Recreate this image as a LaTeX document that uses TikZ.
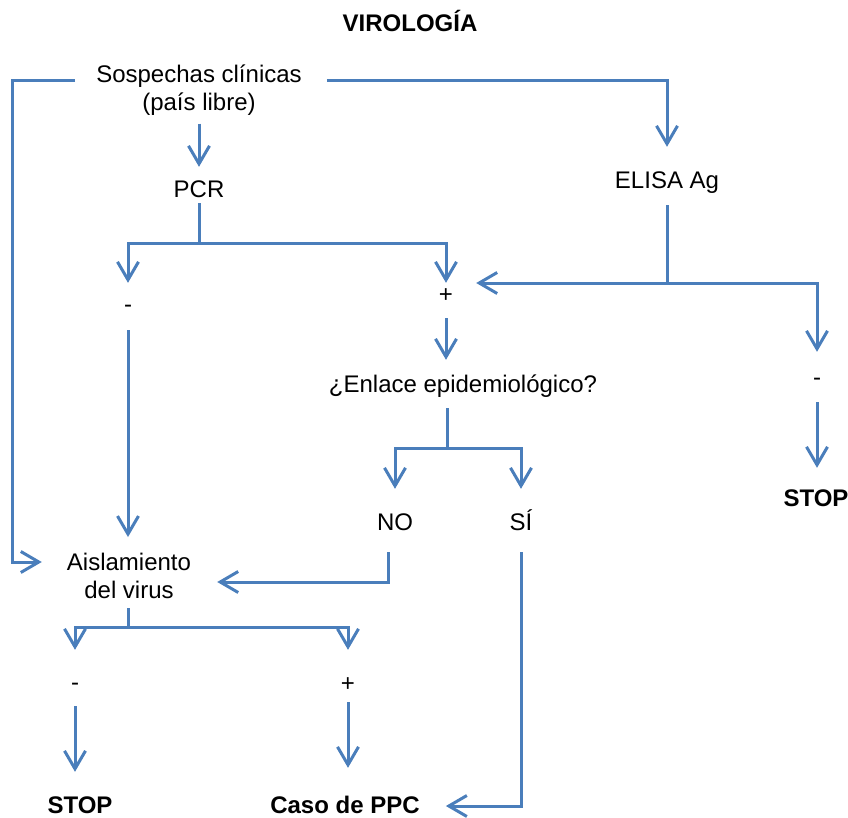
\documentclass[tikz,border=0pt]{standalone}
\usepackage{fontspec}
\setmainfont{Liberation Sans}
\usetikzlibrary{arrows.meta}
\definecolor{flecha}{RGB}{74,126,187}
\tikzset{
	letra/.style={font=\fontsize{24}{28}\selectfont,inner sep=0pt},
	txt/.style={letra,text height=17pt,text depth=5pt,anchor=base},
	fin/.style={txt,font=\fontsize{24}{28}\selectfont\bfseries},
	lin/.style={draw=flecha,line width=3pt},
	arr/.style={lin,-{Straight Barb[length=18pt,width=21pt]}}
}
\begin{document}
\begin{tikzpicture}[x=1pt,y=-1pt]
		\useasboundingbox(0,0)rectangle(848,818);
		\coordinate(cA1)at(12,81);
		\coordinate(cA2)at(12,562);
		\coordinate(cB)at(667,81);
		\coordinate(jPCR)at(199,244);
		\coordinate(jEL)at(667,283);
		\coordinate(jEN)at(447,448);
		\coordinate(cNO)at(388,582);
		\coordinate(cSI)at(521,806);
		\coordinate(jAI)at(128,627);
		\node[fin](titulo)at(410,32){VIROLOGÍA};
		\node[letra,align=center,anchor=north](sosp)at(199,64.5){Sospechas clínicas\\(país libre)};
		\node[txt](pcr)at(199,198){PCR};
		\node[txt](elisa)at(667,189){ELISA Ag};
		\node[txt](negA)at(128,312){-};
		\node[txt](posA)at(446,302){+};
		\node[txt](enlace)at(463,392){¿Enlace epidemiológico?};
		\node[txt](negB)at(817,385){-};
		\node[fin](stopB)at(816,506){STOP};
		\node[txt](no)at(395,530){NO};
		\node[txt](si)at(521,530){SÍ};
		\node[letra,align=center,anchor=north](aisl)at(129,553){Aislamiento\\del virus};
		\node[txt](negC)at(75,690){-};
		\node[txt](posC)at(348,691){+};
		\node[fin](stopC)at(80,813){STOP};
		\node[fin](caso)at(345,813){Caso de PPC};
		\draw[arr,shorten <=21pt,shorten >=25pt](sosp.west|-cA1)--(cA1)--(cA2)--(cA2-|aisl.west);
		\draw[arr,shorten <=25pt,shorten >=25pt](sosp.east|-cB)--(cB)--(elisa);
		\draw[arr,shorten <=8pt,shorten >=14pt](sosp)--(pcr);
		\draw[lin](pcr)--(jPCR);
		\draw[arr,shorten >=12pt](jPCR)-|(negA);
		\draw[arr,shorten >=2pt](jPCR)-|(posA);
		\draw[arr,shorten <=13pt,shorten >=16pt](negA)--(negA|-aisl.north);
		\draw[lin,shorten <=11pt](elisa)--(jEL);
		\draw[arr,shorten >=23pt](jEL)--(jEL-|posA.east);
		\draw[arr,shorten >=16pt](jEL)-|(negB);
		\draw[arr,shorten <=11pt,shorten >=15pt](posA)--(posA|-enlace.north);
		\draw[lin,shorten <=11pt](enlace.south-|jEN)--(jEN);
		\draw[arr,shorten >=24pt](jEN)-|(no);
		\draw[arr,shorten >=24pt](jEN)-|(si);
		\draw[arr,shorten <=12pt,shorten >=21pt](negB)--(negB|-stopB.north);
		\draw[arr,shorten <=17pt,shorten >=26pt](no.south-|cNO)--(cNO)--(cNO-|aisl.east);
		\draw[arr,shorten <=17pt,shorten >=26pt](si)--(cSI)--(cSI-|caso.east);
		\draw[lin,shorten <=9pt](aisl.south-|jAI)--(jAI);
		\draw[arr,shorten >=23pt](jAI)-|(negC);
		\draw[arr,shorten >=24pt](jAI)-|(posC);
		\draw[arr,shorten <=11pt,shorten >=24pt](negC)--(negC|-stopC.north);
		\draw[arr,shorten <=6pt,shorten >=28pt](posC)--(posC|-caso.north);
		\end{tikzpicture}
\end{document}
